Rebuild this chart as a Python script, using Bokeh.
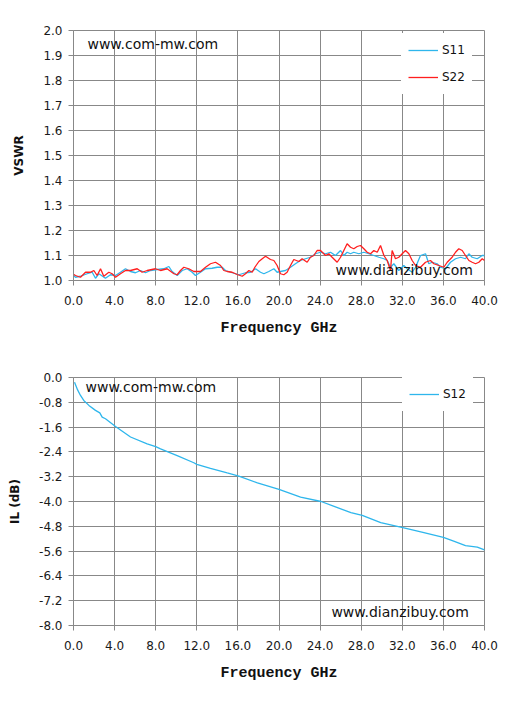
from bokeh.plotting import figure
from bokeh.layouts import column
from bokeh.models import (Range1d, FixedTicker, NumeralTickFormatter, Legend,
                          LegendItem, Label)
from bokeh.embed import file_html
from bokeh.resources import INLINE

# ---------------- data ----------------
s11_freq = [0.0, 0.19, 0.68, 1.33, 1.82, 2.14, 2.47, 3.11, 3.60, 4.09, 4.57, 5.06,
            5.55, 6.03, 6.52, 7.01, 7.49, 8.14, 8.79, 9.28, 9.60, 10.09, 10.58,
            11.06, 11.55, 11.87, 12.36, 12.85, 13.49, 13.98, 14.47, 14.79, 15.44,
            16.09, 16.74, 17.23, 17.72, 18.20, 18.53, 19.01, 19.50, 19.82, 20.14,
            20.63, 21.12, 21.60, 22.09, 22.58, 23.06, 23.55, 24.04, 24.53, 25.01,
            25.50, 25.99, 26.31, 26.63, 26.96, 27.28, 27.77, 28.26, 28.75, 29.23,
            29.72, 30.21, 30.53, 30.85, 31.18, 31.66, 32.15, 32.47, 32.96, 33.29,
            33.77, 34.26, 34.58, 34.91, 35.39, 35.72, 36.20, 36.69, 37.18, 37.67,
            38.15, 38.48, 38.80, 39.29, 39.78, 40.0]
s11_vswr = [1.020, 1.013, 1.017, 1.027, 1.033, 1.009, 1.027, 1.009, 1.023, 1.020,
            1.033, 1.047, 1.036, 1.031, 1.040, 1.031, 1.040, 1.044, 1.047, 1.056,
            1.036, 1.020, 1.040, 1.047, 1.033, 1.020, 1.033, 1.047, 1.049, 1.053,
            1.053, 1.040, 1.031, 1.023, 1.031, 1.033, 1.047, 1.033, 1.027, 1.036,
            1.047, 1.033, 1.036, 1.040, 1.053, 1.067, 1.080, 1.087, 1.093, 1.107,
            1.113, 1.107, 1.113, 1.100, 1.120, 1.100, 1.113, 1.107, 1.113, 1.107,
            1.113, 1.107, 1.100, 1.093, 1.087, 1.080, 1.053, 1.067, 1.040, 1.060,
            1.047, 1.033, 1.053, 1.100, 1.107, 1.067, 1.073, 1.067, 1.053, 1.047,
            1.073, 1.087, 1.093, 1.087, 1.107, 1.093, 1.087, 1.100, 1.100]

s22_freq = [0.0, 0.19, 0.68, 1.17, 1.65, 1.98, 2.30, 2.63, 2.95, 3.44, 3.76, 4.09,
            4.57, 5.06, 5.55, 6.20, 6.68, 7.17, 7.98, 8.47, 9.11, 9.77, 10.09,
            10.41, 10.74, 11.22, 11.71, 12.36, 12.85, 13.33, 13.82, 14.31, 14.63,
            14.96, 15.44, 15.93, 16.42, 16.74, 17.07, 17.39, 17.65, 18.04, 18.37,
            18.69, 19.17, 19.50, 19.82, 20.14, 20.47, 20.79, 21.12, 21.44, 21.93,
            22.25, 22.74, 23.06, 23.39, 23.71, 24.04, 24.53, 24.85, 25.17, 25.66,
            25.99, 26.31, 26.63, 26.96, 27.28, 27.61, 27.93, 28.26, 28.58, 28.91,
            29.23, 29.56, 29.88, 30.21, 30.53, 30.85, 31.01, 31.34, 31.66, 31.99,
            32.31, 32.64, 32.96, 33.29, 33.77, 34.26, 34.74, 35.07, 35.56, 36.04,
            36.37, 36.85, 37.18, 37.50, 37.83, 38.15, 38.48, 38.80, 39.13, 39.45,
            39.78, 40.0]
s22_vswr = [1.025, 1.020, 1.013, 1.033, 1.033, 1.040, 1.020, 1.047, 1.017, 1.033,
            1.027, 1.013, 1.027, 1.040, 1.040, 1.047, 1.033, 1.040, 1.047, 1.040,
            1.047, 1.027, 1.023, 1.040, 1.053, 1.047, 1.036, 1.036, 1.053, 1.067,
            1.073, 1.060, 1.040, 1.036, 1.033, 1.024, 1.017, 1.027, 1.040, 1.033,
            1.053, 1.076, 1.087, 1.097, 1.084, 1.080, 1.060, 1.027, 1.023, 1.033,
            1.060, 1.084, 1.076, 1.087, 1.073, 1.093, 1.100, 1.120, 1.120, 1.100,
            1.107, 1.093, 1.073, 1.093, 1.120, 1.147, 1.133, 1.127, 1.136, 1.140,
            1.127, 1.113, 1.107, 1.120, 1.113, 1.140, 1.100, 1.080, 1.040, 1.120,
            1.087, 1.093, 1.107, 1.120, 1.107, 1.080, 1.060, 1.053, 1.073, 1.080,
            1.067, 1.060, 1.053, 1.073, 1.093, 1.113, 1.127, 1.120, 1.100, 1.080,
            1.073, 1.067, 1.073, 1.087, 1.080]

s12_freq = [0.1, 0.4, 0.68, 1.0, 1.5, 2.14, 2.56, 2.79, 3.11, 4.09, 5.55, 7.17, 8.0,
            8.47, 10.09, 11.71, 12.0, 13.33, 14.96, 16.09, 17.9, 20.0, 22.1, 24.1,
            25.3, 27.0, 28.1, 29.9, 32.05, 33.8, 36.0, 37.0, 38.15, 39.3, 40.0]
s12_il = [-0.15, -0.4, -0.58, -0.74, -0.9, -1.06, -1.14, -1.28, -1.33, -1.58, -1.92,
          -2.14, -2.23, -2.3, -2.52, -2.75, -2.8, -2.93, -3.08, -3.18, -3.4, -3.61,
          -3.86, -4.0, -4.15, -4.36, -4.45, -4.68, -4.84, -4.98, -5.16, -5.28,
          -5.42, -5.47, -5.56]

x_ticks = [0, 4, 8, 12, 16, 20, 24, 28, 32, 36, 40]
vswr_ticks = [1.0, 1.1, 1.2, 1.3, 1.4, 1.5, 1.6, 1.7, 1.8, 1.9, 2.0]
il_ticks = [-8.0, -7.2, -6.4, -5.6, -4.8, -4.0, -3.2, -2.4, -1.6, -0.8, 0.0]

BLUE = "#2EB6EC"
RED = "#FF1E1E"
GRID = "#888888"
FONT = "DejaVu Sans"


def style(p, yticks, ylabel):
    p.xaxis.ticker = FixedTicker(ticks=x_ticks)
    p.yaxis.ticker = FixedTicker(ticks=yticks)
    p.xaxis.formatter = NumeralTickFormatter(format="0.0")
    p.yaxis.formatter = NumeralTickFormatter(format="0.0")
    for ax in (p.xaxis, p.yaxis):
        ax.axis_line_color = GRID
        ax.major_tick_line_color = GRID
        ax.major_tick_out = 5
        ax.major_tick_in = 0
        ax.minor_tick_line_color = None
        ax.major_label_text_font = FONT
        ax.major_label_text_font_size = "12px"
        ax.major_label_text_color = "#1a1a1a"
    p.yaxis.major_label_standoff = 6
    p.xaxis.major_label_standoff = 10
    p.xaxis.axis_label = "Frequency GHz"
    p.xaxis.axis_label_text_font = "Liberation Mono"
    p.xaxis.axis_label_text_font_size = "15px"
    p.xaxis.axis_label_text_font_style = "bold"
    p.xaxis.axis_label_text_color = "#111111"
    p.xaxis.axis_label_standoff = 12
    p.yaxis.axis_label = ylabel
    p.yaxis.axis_label_text_font = FONT
    p.yaxis.axis_label_text_font_size = "12px"
    p.yaxis.axis_label_text_font_style = "bold"
    p.yaxis.axis_label_text_color = "#111111"
    p.yaxis.axis_label_standoff = 14
    p.xgrid.ticker = FixedTicker(ticks=x_ticks)
    p.ygrid.ticker = FixedTicker(ticks=yticks)
    for g in (p.xgrid, p.ygrid):
        g.grid_line_color = GRID
        g.grid_line_width = 1
        g.grid_line_alpha = 1
    p.outline_line_color = GRID
    p.outline_line_width = 1
    p.background_fill_color = "white"
    p.border_fill_color = "white"


def legend_for(items, loc):
    lg = Legend(items=items, location=loc, padding=7, spacing=7,
                label_standoff=4, glyph_width=30, glyph_height=20,
                label_height=20, label_text_font=FONT,
                label_text_font_size="12px", label_text_color="#111111",
                border_line_alpha=0, background_fill_color="white",
                background_fill_alpha=1, margin=0)
    return lg


# ---------------- top: VSWR ----------------
p1 = figure(width=507, height=350, output_backend="svg", toolbar_location=None,
            x_range=Range1d(0, 40), y_range=Range1d(1.0, 2.0),
            min_border_left=73, min_border_right=23, min_border_top=30,
            min_border_bottom=70)
style(p1, vswr_ticks, "VSWR")
r11 = p1.line(s11_freq, s11_vswr, line_color=BLUE, line_width=1.3)
r22 = p1.line(s22_freq, s22_vswr, line_color=RED, line_width=1.3)
p1.add_layout(legend_for([LegendItem(label="S11", renderers=[r11]),
                          LegendItem(label="S22", renderers=[r22])], (328, 186)))
p1.add_layout(Label(x=1.36, y=1.948, text="www.com-mw.com", text_font=FONT,
                    text_font_size="14px", text_baseline="middle",
                    text_color="#111111"))
p1.add_layout(Label(x=25.5, y=1.044, text="www.dianzibuy.com", text_font=FONT,
                    text_font_size="14px", text_baseline="middle",
                    text_color="#111111"))

# ---------------- bottom: IL ----------------
p2 = figure(width=507, height=352, output_backend="svg", toolbar_location=None,
            x_range=Range1d(0, 40), y_range=Range1d(-8.0, 0.0),
            min_border_left=73, min_border_right=23, min_border_top=27,
            min_border_bottom=77)
style(p2, il_ticks, "IL (dB)")
r12 = p2.line(s12_freq, s12_il, line_color=BLUE, line_width=1.3)
p2.add_layout(legend_for([LegendItem(label="S12", renderers=[r12])], (329, 214)))
p2.add_layout(Label(x=1.17, y=-0.32, text="www.com-mw.com", text_font=FONT,
                    text_font_size="14px", text_baseline="middle",
                    text_color="#111111"))
p2.add_layout(Label(x=25.1, y=-7.55, text="www.dianzibuy.com", text_font=FONT,
                    text_font_size="14px", text_baseline="middle",
                    text_color="#111111"))

layout = column(p1, p2, spacing=0)
open("out.html", "w").write(file_html(layout, INLINE))
